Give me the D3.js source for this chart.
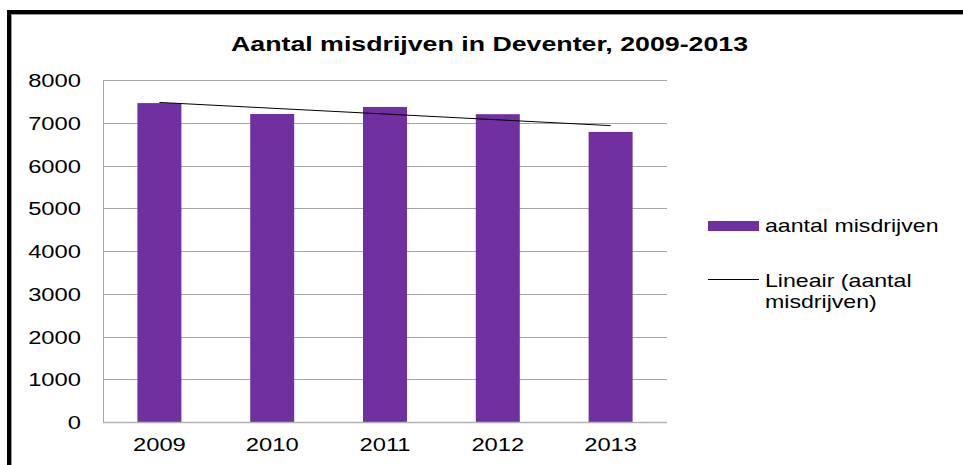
<!DOCTYPE html>
<html>
<head>
<meta charset="utf-8">
<script src="https://cdn.jsdelivr.net/npm/d3@7"></script>
<style>
  html, body { margin: 0; padding: 0; background: #fff; }
  svg { display: block; }
  text { font-family: "Liberation Sans", Arial, sans-serif; fill: #000; }
</style>
</head>
<body>
<div id="chart"></div>
<script>
// data
const years = ["2009", "2010", "2011", "2012", "2013"];
const crimes = [7460, 7205, 7370, 7200, 6785];
const yTicks = [0, 1000, 2000, 3000, 4000, 5000, 6000, 7000, 8000];
const title = "Aantal misdrijven in Deventer, 2009-2013";
const legendBar = "aantal misdrijven";
const legendLine = ["Lineair (aantal", "misdrijven)"];

const W = 963, H = 465;
const SX = 1.25; // the original text is stretched sideways
const m = { top: 80, right: 296, bottom: 43, left: 103 };
const innerW = W - m.left - m.right;
const innerH = H - m.top - m.bottom;

const svg = d3.select("#chart").append("svg")
    .attr("width", W).attr("height", H);

// frame: black top and left edge
svg.append("rect").attr("x", 7).attr("y", 10).attr("width", W - 7).attr("height", 4).attr("fill", "#000");
svg.append("rect").attr("x", 7).attr("y", 10).attr("width", 4).attr("height", H - 10).attr("fill", "#000");
svg.append("line").attr("x1", 11).attr("x2", W).attr("y1", 14.5).attr("y2", 14.5).attr("stroke", "#999");
svg.append("line").attr("x1", 11.5).attr("x2", 11.5).attr("y1", 14).attr("y2", H).attr("stroke", "#999");

function stretched(parent, x, y, str, size, anchor, weight) {
    return parent.append("g")
        .attr("transform", `translate(${x},${y}) scale(${SX},1)`)
      .append("text")
        .attr("font-size", size)
        .attr("font-weight", weight || "normal")
        .attr("text-anchor", anchor || "start")
        .text(str);
}

// title
svg.append("text")
    .attr("x", 231).attr("y", 51)
    .attr("font-size", 20).attr("font-weight", "bold")
    .attr("textLength", 517).attr("lengthAdjust", "spacingAndGlyphs")
    .text(title);

const plot = svg.append("g").attr("transform", `translate(${m.left},${m.top})`);

const x = d3.scaleBand().domain(years).range([0, innerW]).paddingInner(0.61).paddingOuter(0.305);
const y = d3.scaleLinear().domain([0, 8000]).range([innerH, 0]);

// gridlines
plot.selectAll(".grid").data(yTicks.filter(d => d > 0)).join("line")
    .attr("x1", 0).attr("x2", innerW)
    .attr("y1", d => Math.round(y(d)) + 0.5).attr("y2", d => Math.round(y(d)) + 0.5)
    .attr("stroke", "#a6a6a6");

// y tick labels
yTicks.forEach(t => stretched(plot, -22, y(t) + 7, String(t), 19, "end"));

// bars
plot.selectAll(".bar").data(crimes).join("rect")
    .attr("x", (d, i) => x(years[i]))
    .attr("y", d => y(d))
    .attr("width", x.bandwidth())
    .attr("height", d => innerH - y(d))
    .attr("fill", "#7030a0");

// axes lines
plot.append("line").attr("x1", 0.5).attr("x2", 0.5).attr("y1", 0).attr("y2", innerH)
    .attr("stroke", "#a6a6a6");
plot.append("line").attr("x1", 0).attr("x2", innerW).attr("y1", innerH + 0.5).attr("y2", innerH + 0.5)
    .attr("stroke", "#b3b3b3").attr("stroke-width", 1.5);

// x labels
years.forEach(yr => stretched(plot, x(yr) + x.bandwidth() / 2, innerH + 29, yr, 19, "middle"));

// linear trend (least squares on the bar values)
const n = crimes.length;
const xs = d3.range(n);
const mx = d3.mean(xs), my = d3.mean(crimes);
const slope = d3.sum(xs, i => (i - mx) * (crimes[i] - my)) / d3.sum(xs, i => (i - mx) ** 2);
const icpt = my - slope * mx;
const cx = i => x(years[i]) + x.bandwidth() / 2;
plot.append("line")
    .attr("x1", cx(0)).attr("y1", y(icpt))
    .attr("x2", cx(n - 1)).attr("y2", y(icpt + slope * (n - 1)))
    .attr("stroke", "#000").attr("stroke-width", 1);

// legend
const lg = svg.append("g");
lg.append("rect").attr("x", 708).attr("y", 221).attr("width", 51).attr("height", 10).attr("fill", "#7030a0");
stretched(lg, 765, 232, legendBar, 18.5);
lg.append("line").attr("x1", 708).attr("x2", 759).attr("y1", 279.5).attr("y2", 279.5).attr("stroke", "#000");
stretched(lg, 765, 287, legendLine[0], 18.5);
stretched(lg, 765, 308, legendLine[1], 18.5);
</script>
</body>
</html>
